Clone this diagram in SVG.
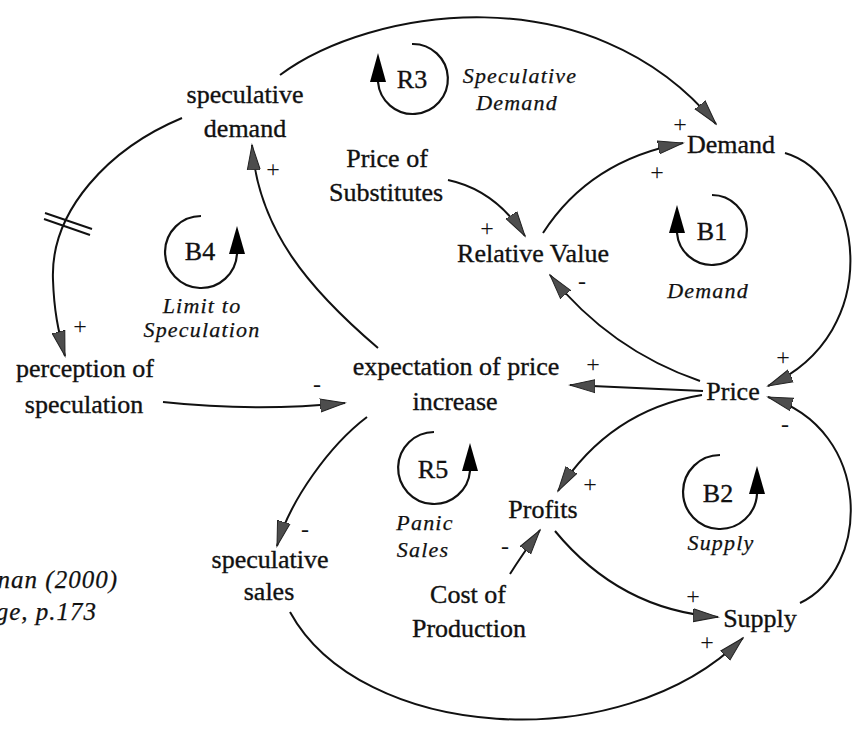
<svg xmlns="http://www.w3.org/2000/svg" width="853" height="732" viewBox="0 0 853 732">
  <style>
    .node { font-family: "Liberation Serif", "Times New Roman", serif; font-size: 26px; fill: #111; stroke: #111; stroke-width: 0.35px; text-anchor: middle; }
    .loopname { font-family: "Liberation Serif", "Times New Roman", serif; font-size: 22px; font-style: italic; fill: #111; stroke: #111; stroke-width: 0.25px; text-anchor: middle; letter-spacing: 1.2px; }
    .cite { font-family: "Liberation Serif", "Times New Roman", serif; font-size: 25px; font-style: italic; fill: #111; stroke: #111; stroke-width: 0.25px; text-anchor: end; letter-spacing: 1px; }
    .pol { font-family: "Liberation Serif", "Times New Roman", serif; font-size: 24px; fill: #111; text-anchor: middle; }
    .link { fill: none; stroke: #111; stroke-width: 2; marker-end: url(#arrow); }
    .loop { fill: none; stroke: #111; stroke-width: 2.2; }
    .loophead { fill: #000; }
  </style>
  <defs>
    <marker id="arrow" markerUnits="userSpaceOnUse" markerWidth="27" markerHeight="16" refX="25" refY="8" orient="auto" viewBox="0 0 27 16">
      <path d="M0,1.5 L25,8 L0,14.5 Z" fill="#4d4d4d" stroke="#222" stroke-width="1"/>
    </marker>
  </defs>
  <rect width="853" height="732" fill="#fff"/>

  <!-- causal links -->
  <g id="connectors">
    <path class="link" d="M280,75 C370,8 590,-28 716,124"/>
    <path class="link" d="M182,118 C110,148 50,210 53,280 C54,310 58,330 65,356"/>
    <line x1="45" y1="213" x2="92" y2="229" stroke="#111" stroke-width="2"/>
    <line x1="44" y1="219" x2="90" y2="235" stroke="#111" stroke-width="2"/>
    <path class="link" d="M378,348 C310,290 258,230 252,145"/>
    <path class="link" d="M163,402 Q255,412 345,403"/>
    <path class="link" d="M367,417 C330,445 290,500 277,546"/>
    <path class="link" d="M290,612 C360,740 620,760 743,638"/>
    <path class="link" d="M448,180 Q495,190 525,236"/>
    <path class="link" d="M543,233 Q590,160 683,143"/>
    <path class="link" d="M785,153 C862,175 888,332 768,386"/>
    <path class="link" d="M800,603 C870,570 875,430 768,397"/>
    <path class="link" d="M700,381 Q610,350 550,275"/>
    <path class="link" d="M703,391 L570,385"/>
    <path class="link" d="M702,395 Q610,410 558,491"/>
    <path class="link" d="M510,574 Q522,555 540,530"/>
    <path class="link" d="M555,531 Q620,610 718,617"/>
  </g>

  <!-- polarity signs -->
  <g id="polarities">
    <text class="pol" x="273" y="177">+</text>
    <text class="pol" x="680" y="132">+</text>
    <text class="pol" x="657" y="180">+</text>
    <text class="pol" x="487" y="236">+</text>
    <text class="pol" x="582" y="289">-</text>
    <text class="pol" x="783" y="365">+</text>
    <text class="pol" x="785" y="432">-</text>
    <text class="pol" x="593" y="372">+</text>
    <text class="pol" x="590" y="492">+</text>
    <text class="pol" x="505" y="554">-</text>
    <text class="pol" x="693" y="604">+</text>
    <text class="pol" x="707" y="650">+</text>
    <text class="pol" x="305" y="537">-</text>
    <text class="pol" x="317" y="392">-</text>
    <text class="pol" x="80" y="334">+</text>
  </g>

  <!-- variables -->
  <g id="speculative-demand"><text class="node" x="245" y="103">speculative</text><text class="node" x="245" y="137">demand</text></g>
  <g id="price-of-substitutes"><text class="node" x="387" y="167">Price of</text><text class="node" x="386" y="201">Substitutes</text></g>
  <g id="relative-value"><text class="node" x="533" y="262">Relative Value</text></g>
  <g id="demand"><text class="node" x="731" y="153">Demand</text></g>
  <g id="price"><text class="node" x="733" y="400">Price</text></g>
  <g id="expectation"><text class="node" x="456" y="375">expectation of price</text><text class="node" x="455" y="410">increase</text></g>
  <g id="perception"><text class="node" x="85" y="377">perception of</text><text class="node" x="84" y="413">speculation</text></g>
  <g id="speculative-sales"><text class="node" x="270" y="568">speculative</text><text class="node" x="269" y="600">sales</text></g>
  <g id="profits"><text class="node" x="543" y="518">Profits</text></g>
  <g id="cost"><text class="node" x="468" y="603">Cost of</text><text class="node" x="469" y="637">Production</text></g>
  <g id="supply"><text class="node" x="760" y="627">Supply</text></g>

  <!-- feedback loop markers -->
  <g id="loop-R3">
    <path class="loop" d="M412,44 A35,35 0 1 1 378,82"/>
    <polygon class="loophead" points="370,82 386,82 378,53"/>
    <text class="node" x="412" y="88">R3</text>
    <text class="loopname" x="520" y="83">Speculative</text>
    <text class="loopname" x="517" y="110">Demand</text>
  </g>
  <g id="loop-B1">
    <path class="loop" d="M712,195 A35,35 0 1 1 677,233"/>
    <polygon class="loophead" points="669,233 685,233 677,205"/>
    <text class="node" x="712" y="240">B1</text>
    <text class="loopname" x="708" y="298">Demand</text>
  </g>
  <g id="loop-B4">
    <path class="loop" d="M201,216 A36,36 0 1 0 237,254"/>
    <polygon class="loophead" points="229,254 245,254 237,226"/>
    <text class="node" x="200" y="260">B4</text>
    <text class="loopname" x="202" y="313">Limit to</text>
    <text class="loopname" x="202" y="337">Speculation</text>
  </g>
  <g id="loop-R5">
    <path class="loop" d="M434,432 A36,36 0 1 0 470,471"/>
    <polygon class="loophead" points="462,471 478,471 470,443"/>
    <text class="node" x="433" y="478">R5</text>
    <text class="loopname" x="425" y="530">Panic</text>
    <text class="loopname" x="423" y="557">Sales</text>
  </g>
  <g id="loop-B2">
    <path class="loop" d="M720,455 A37,37 0 1 0 757,494"/>
    <polygon class="loophead" points="749,494 765,494 757,466"/>
    <text class="node" x="718" y="502">B2</text>
    <text class="loopname" x="721" y="550">Supply</text>
  </g>

  <!-- source note, running off the left edge -->
  <g id="source">
    <text class="cite" x="118" y="588">nan (2000)</text>
    <text class="cite" x="97" y="620">ge, p.173</text>
  </g>
</svg>
